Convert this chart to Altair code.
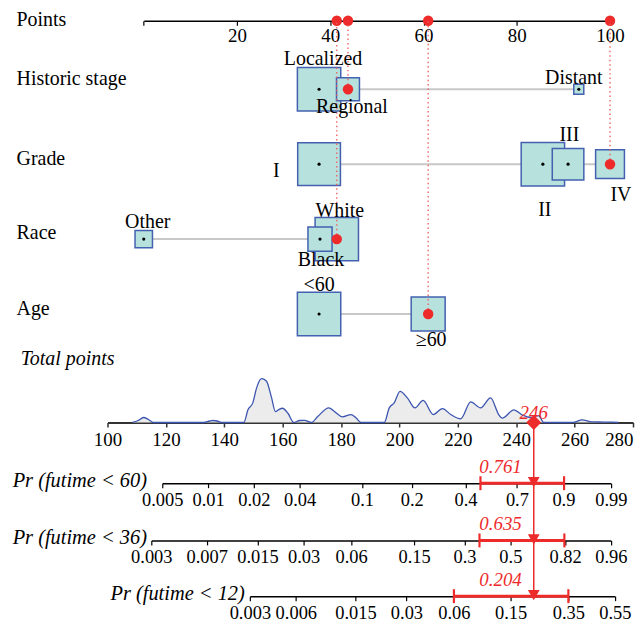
import altair as alt
import pandas as pd

# ----------------------------- data -----------------------------
ROW_NAMES = ["Historic stage", "Grade", "Race", "Age"]

LEVEL_ROW = ["Historic stage", "Historic stage", "Historic stage",
             "Grade", "Grade", "Grade", "Grade",
             "Race", "Race", "Race",
             "Age", "Age"]
LEVEL_NAME = ["Localized", "Regional", "Distant",
              "I", "II", "III", "IV",
              "White", "Black", "Other",
              "<60", "≥60"]
LEVEL_POINTS = [37.6, 43.8, 93.3, 37.6, 85.6, 91.0, 100.0, 41.4, 37.8, 0.0, 37.6, 61.0]
LEVEL_SHARE = [0.75, 0.21, 0.04, 0.33, 0.34, 0.18, 0.15, 0.68, 0.21, 0.11, 0.62, 0.38]
SELECTED_LEVELS = ["Regional", "IV", "White", "≥60"]

POINTS_TICKS = [0, 20, 40, 60, 80, 100]
TOTAL_TICKS = [100, 120, 140, 160, 180, 200, 220, 240, 260, 280]
TOTAL_SCORE = 246

DENS_TP = [108.5, 110.5, 112.3, 114.0, 115.7, 133.0, 135.0, 136.2, 137.5, 139.0,
           146.7, 148.1, 149.8, 151.0, 152.7, 154.4, 156.1, 157.5, 158.7, 159.9,
           161.8, 163.8, 165.8, 167.5, 169.8, 172.0, 175.8, 178.3, 180.5, 183.4,
           185.1, 186.8, 194.8, 196.5, 198.2, 200.2, 202.7, 205.3, 208.1, 211.6,
           214.7, 217.6, 221.0, 224.4, 227.8, 231.2, 234.0, 235.2, 239.2, 242.0,
           245.4, 247.7, 249.4, 259.0, 260.2, 262.5, 265.9, 268.0, 272.6, 275.0]
DENS_VAL = [0, 2, 5, 3, 0, 0, 1.5, 2, 1.5, 0,
            0, 12.7, 20, 34, 44, 41.7, 26, 11, 13, 14.3,
            9.3, 0, 2, 2.2, 0, 6, 14.7, 9.7, 5.7, 8,
            4.7, 0, 0, 14.7, 19.7, 31.3, 24.7, 14.7, 22.3, 8,
            14, 8, 3.7, 20.7, 14.7, 24.7, 8, 4.3, 12.7, 7.7,
            5, 7, 0, 0, 0.5, 2.7, 0.7, 0.5, 0.3, 0]

PR_TITLES = ["Pr (futime < 60)", "Pr (futime < 36)", "Pr (futime < 12)"]
PR60_LABELS = ["0.005", "0.01", "0.02", "0.04", "0.1", "0.2", "0.4", "0.7", "0.9", "0.99"]
PR60_AT = [118.75, 134.44, 150.12, 165.80, 187.18, 204.23, 222.64, 240.23, 256.15, 272.42]
PR36_LABELS = ["0.003", "0.007", "0.015", "0.03", "0.06", "0.15", "0.3", "0.5", "0.82", "0.96"]
PR36_AT = [115.0, 133.99, 151.38, 167.17, 183.43, 205.01, 222.30, 237.98, 256.73, 272.42]
PR12_LABELS = ["0.003", "0.006", "0.015", "0.03", "0.06", "0.15", "0.35", "0.55"]
PR12_AT = [148.76, 164.5, 184.90, 202.39, 218.65, 238.08, 257.86, 273.78]
PR_VALUE = ["0.761", "0.635", "0.204"]
PR_CI_LO = [227.75, 227.41, 218.65]
PR_CI_HI = [256.39, 256.49, 257.86]

# ----------------------------- layout / style -----------------------------
SERIF = "Liberation Serif"
RED = "#ee2b2b"
DOT_RED = "#f05a5a"
BOX_FILL = "#b7e1dc"
BOX_STROKE = "#4361b0"
W = 627
PTS_PX = [135.4, 603.9]
TP_PX = [99.0, 627.0]


def tp_px(v):
    return TP_PX[0] + (v - 100) * (TP_PX[1] - TP_PX[0]) / 180.0


H_POINTS = 10.3
H_ROWS = 326.7
ROW_STEP = 75.27
ROW_FIRST = 68.2
H_DENS = 76
H_PR = [61, 57.5, 55.5]
PR_TITLE_RIGHT = [138.7, 138.7, 237.0]

LABEL_OFFSET = {  # (dx, dy) in pixels of each level label around its box
    "Localized": (4, -30), "Regional": (4, 17.5), "Distant": (-5, -11.5),
    "I": (-43, 6.5), "II": (2, 45.7), "III": (1.3, -29.6), "IV": (11, 31.4),
    "White": (3, -28), "Black": (1, 21), "Other": (4, -17.3),
    "<60": (0, -29.3), "≥60": (3, 26),
}
ROW_LABEL_DY = {"Historic stage": -10.5, "Grade": -5, "Race": -6.5, "Age": -5.5}

levels = pd.DataFrame({
    "row": LEVEL_ROW,
    "idx": [ROW_NAMES.index(r) for r in LEVEL_ROW],
    "level": LEVEL_NAME,
    "points": LEVEL_POINTS,
    "share": LEVEL_SHARE,
    "sel": [n in SELECTED_LEVELS for n in LEVEL_NAME],
})
rows = pd.DataFrame({"row": ROW_NAMES, "idx": list(range(len(ROW_NAMES)))})


def axis_style(**kw):
    base = dict(title=None, grid=False, labelFont=SERIF, labelFontSize=19, labelColor="black",
                tickColor="black", domainColor="black", labelOverlap=False, labelFlush=False,
                orient="bottom", tickSize=4.5, tickWidth=1.2, domainWidth=1.5, labelPadding=3.5)
    base.update(kw)
    return alt.Axis(**base)


# ----------------------------- Points panel -----------------------------
pts_scale = alt.Scale(domain=[0, 100], range=PTS_PX, nice=False, zero=False)
pts_axis = axis_style(values=POINTS_TICKS, labelExpr="datum.value == 0 ? '' : datum.label",
                      labelPadding=1)


def xpts(field, with_axis=False):
    if with_axis:
        return alt.X(field, type="quantitative", scale=pts_scale, axis=pts_axis)
    return alt.X(field, type="quantitative", scale=pts_scale, axis=None)


sel_df = levels[levels["sel"]]
panel_points = alt.layer(
    alt.Chart(sel_df).mark_circle(size=110, color=RED, opacity=1).encode(
        x=xpts("points", True), y=alt.value(H_POINTS)),
    alt.Chart(pd.DataFrame({"t": ["Points"]})).mark_text(
        align="left", baseline="middle", font=SERIF, fontSize=20, color="black").encode(
        x=alt.value(7.6), y=alt.value(10), text="t:N"),
).properties(width=W, height=H_POINTS)

# ----------------------------- variable rows panel -----------------------------
y_rows = alt.Y("idx:Q", scale=alt.Scale(domain=[-ROW_FIRST / ROW_STEP, (H_ROWS - ROW_FIRST) / ROW_STEP],
                                         reverse=True, nice=False, zero=False), axis=None)
base = alt.Chart(levels)

row_layers = [
    base.transform_aggregate(lo="min(points)", hi="max(points)", groupby=["idx"]).mark_rule(
        color="#c8c8c8", strokeWidth=2).encode(x=xpts("lo"), x2="hi:Q", y=y_rows),
    base.transform_joinaggregate(mx="max(share)", groupby=["idx"]).transform_calculate(
        rel="datum.share / datum.mx").mark_square(
        filled=True, fill=BOX_FILL, stroke=BOX_STROKE, strokeWidth=1.5, opacity=1).encode(
        x=xpts("points"), y=y_rows,
        size=alt.Size("rel:Q", scale=alt.Scale(domain=[0, 1], range=[0, 1900]), legend=None)),
    base.transform_filter("!datum.sel").mark_circle(size=10, color="black", opacity=1).encode(
        x=xpts("points"), y=y_rows),
    base.transform_filter("datum.sel").mark_rule(color=DOT_RED, strokeWidth=1.3, strokeDash=[1.5, 3]).encode(
        x=xpts("points"), y=y_rows, y2=alt.value(0)),
    base.transform_filter("datum.sel").mark_circle(size=110, color=RED, opacity=1).encode(
        x=xpts("points"), y=y_rows),
]
for name in LEVEL_NAME:
    dx, dy = LABEL_OFFSET[name]
    row_layers.append(
        base.transform_filter(alt.datum.level == name).mark_text(
            font=SERIF, fontSize=20, color="black", align="center", baseline="middle", dx=dx, dy=dy).encode(
            x=xpts("points"), y=y_rows, text="level:N"))
for name in ROW_NAMES:
    row_layers.append(
        alt.Chart(rows).transform_filter(alt.datum.row == name).mark_text(
            font=SERIF, fontSize=20, color="black", align="left", baseline="middle",
            dy=ROW_LABEL_DY[name]).encode(x=alt.value(7.6), y=y_rows, text="row:N"))
panel_rows = alt.layer(*row_layers).properties(width=W, height=H_ROWS)

# ----------------------------- Total points panel -----------------------------
tp_scale = alt.Scale(domain=[100, 280], range=TP_PX, nice=False, zero=False)
tp_axis = axis_style(values=TOTAL_TICKS, domainWidth=2, domainColor="#333333", tickColor="#333333",
                     tickWidth=1.5,
                     labelAlign={"condition": {"test": "datum.value >= 280", "value": "right"},
                                 "value": "center"})


def xtp(field):
    return alt.X(field, type="quantitative", scale=tp_scale, axis=tp_axis)


dens = pd.DataFrame({"tp": DENS_TP, "d": DENS_VAL})
y_d = alt.Y("d:Q", scale=alt.Scale(domain=[0, H_DENS], nice=False, zero=False), axis=None)
score_df = pd.DataFrame({"tp": [TOTAL_SCORE], "t": [str(TOTAL_SCORE)]})
panel_total = alt.layer(
    alt.Chart(dens).mark_area(color="#ececec", interpolate="monotone", opacity=1).encode(
        x=xtp("tp"), y=y_d),
    alt.Chart(dens).mark_line(color="#3c55b0", strokeWidth=1.3, interpolate="monotone").encode(
        x=xtp("tp"), y=y_d),
    alt.Chart(score_df).mark_point(shape="diamond", filled=True, size=225, color=RED, opacity=1).encode(
        x=xtp("tp"), y=alt.value(H_DENS)),
    alt.Chart(score_df).mark_text(font=SERIF, fontSize=19, fontStyle="italic", color=RED,
                                  baseline="middle").encode(
        x=xtp("tp"), y=alt.value(H_DENS - 10), text="t:N"),
    alt.Chart(pd.DataFrame({"t": ["Total points"]})).mark_text(
        font=SERIF, fontSize=20, fontStyle="italic", color="black", align="left", baseline="middle").encode(
        x=alt.value(11.7), y=alt.value(12), text="t:N"),
).properties(width=W, height=H_DENS)


# ----------------------------- probability panels -----------------------------
def pr_panel(title, at, labels, value_txt, lo, hi, h, title_right):
    label_expr = ("[" + ",".join("'%s'" % s for s in labels) + "][indexof(["
                  + ",".join(repr(v) for v in at) + "], datum.value)]")
    sc = alt.Scale(domain=[at[0], at[-1]], range=[tp_px(at[0]), tp_px(at[-1])], nice=False, zero=False)
    ax = axis_style(values=at, labelExpr=label_expr, labelFontSize=18.5, labelPadding=3)

    def xx(field):
        return alt.X(field, type="quantitative", scale=sc, axis=ax)

    d = pd.DataFrame({"tp": [TOTAL_SCORE], "lo": [lo], "hi": [hi], "v": [value_txt], "t": [title]})
    c = alt.Chart(d)
    return alt.layer(
        c.mark_rule(color=RED, strokeWidth=1.5).encode(x=xx("tp")),
        c.mark_rule(color=RED, strokeWidth=3).encode(x=xx("lo"), x2="hi:Q", y=alt.value(h)),
        c.mark_rule(color=RED, strokeWidth=2.2).encode(x=xx("lo"), y=alt.value(h - 7), y2=alt.value(h + 7)),
        c.mark_rule(color=RED, strokeWidth=2.2).encode(x=xx("hi"), y=alt.value(h - 7), y2=alt.value(h + 7)),
        c.mark_point(shape="triangle-down", filled=True, size=140, color=RED, opacity=1).encode(
            x=xx("tp"), y=alt.value(h - 1)),
        c.mark_text(font=SERIF, fontSize=19, fontStyle="italic", color=RED, align="right",
                    baseline="middle", dx=-12).encode(x=xx("tp"), y=alt.value(h - 16), text="v:N"),
        c.mark_text(font=SERIF, fontSize=20.5, fontStyle="italic", color="black", align="right",
                    baseline="middle").encode(x=alt.value(title_right), y=alt.value(h - 2), text="t:N"),
    ).properties(width=W, height=h)


panel_pr60 = pr_panel(PR_TITLES[0], PR60_AT, PR60_LABELS, PR_VALUE[0], PR_CI_LO[0], PR_CI_HI[0],
                      H_PR[0], PR_TITLE_RIGHT[0])
panel_pr36 = pr_panel(PR_TITLES[1], PR36_AT, PR36_LABELS, PR_VALUE[1], PR_CI_LO[1], PR_CI_HI[1],
                      H_PR[1], PR_TITLE_RIGHT[1])
panel_pr12 = pr_panel(PR_TITLES[2], PR12_AT, PR12_LABELS, PR_VALUE[2], PR_CI_LO[2], PR_CI_HI[2],
                      H_PR[2], PR_TITLE_RIGHT[2])

chart = alt.vconcat(
    panel_points, panel_rows, panel_total, panel_pr60, panel_pr36, panel_pr12,
    spacing=0, bounds="flush",
).properties(padding=0, background="white").configure_view(stroke="transparent")

chart.save("out.html", embed_options={"renderer": "svg", "actions": False})
